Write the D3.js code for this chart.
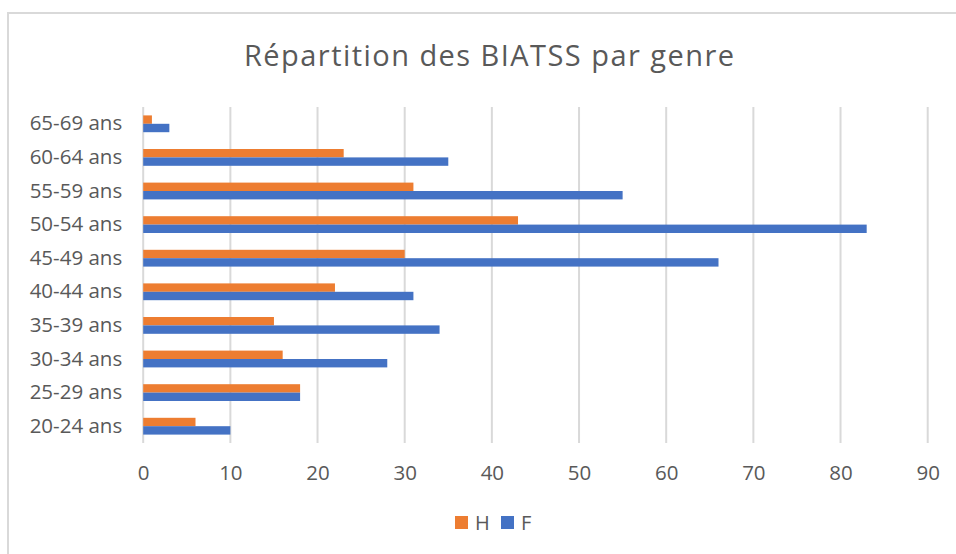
<!DOCTYPE html>
<html>
<head>
<meta charset="utf-8">
<script src="https://cdn.jsdelivr.net/npm/d3@7"></script>
<style>
  body { margin: 0; background: #fff; }
  svg text { font-family: "Open Sans", Lato, sans-serif; fill: #595959; }
</style>
</head>
<body>
<svg id="chart" width="956" height="554"></svg>
<script>
// chart data
const ageGroups = ["20-24 ans", "25-29 ans", "30-34 ans", "35-39 ans", "40-44 ans",
                   "45-49 ans", "50-54 ans", "55-59 ans", "60-64 ans", "65-69 ans"];
const valuesH = [6, 18, 16, 15, 22, 30, 43, 31, 23, 1];
const valuesF = [10, 18, 28, 34, 31, 66, 83, 55, 35, 3];
const seriesNames = ["H", "F"];
const seriesColors = ["#ED7D31", "#4472C4"];
const xTicks = [0, 10, 20, 30, 40, 50, 60, 70, 80, 90];

const svg = d3.select("#chart");

// chart area border (only top + left visible in the crop)
svg.append("rect")
    .attr("x", 8).attr("y", 13)
    .attr("width", 1000).attr("height", 600)
    .attr("fill", "#fff")
    .attr("stroke", "#d9d9d9").attr("stroke-width", 2);

// title
svg.append("text")
    .attr("x", 489).attr("y", 66)
    .attr("text-anchor", "middle")
    .attr("textLength", 490)
    .attr("lengthAdjust", "spacing")
    .style("font-size", "29px")
    .text("Répartition des BIATSS par genre");

const x = d3.scaleLinear().domain([0, 90]).range([143.2, 927.7]);

// top category first, like the original
const y = d3.scaleBand()
    .domain(ageGroups.slice().reverse())
    .range([107, 443])
    .paddingInner(0.5)
    .paddingOuter(0.25);

const ySub = d3.scaleBand().domain(seriesNames).range([0, y.bandwidth()]);

// vertical gridlines
svg.append("g").selectAll("line")
    .data(xTicks)
    .join("line")
    .attr("x1", d => x(d)).attr("x2", d => x(d))
    .attr("y1", 107).attr("y2", 443)
    .attr("stroke", "#d9d9d9").attr("stroke-width", 2);

// bars
const rows = ageGroups.map((a, i) => ({ age: a, H: valuesH[i], F: valuesF[i] }));

seriesNames.forEach((s, si) => {
    svg.append("g").selectAll("rect")
        .data(rows)
        .join("rect")
        .attr("x", x(0))
        .attr("y", d => y(d.age) + ySub(s))
        .attr("width", d => x(d[s]) - x(0))
        .attr("height", ySub.bandwidth())
        .attr("fill", seriesColors[si]);
});

// y axis labels
const yAxis = svg.append("g")
    .attr("transform", `translate(${x(0)},0)`)
    .call(d3.axisLeft(y).tickSize(0).tickPadding(21));
yAxis.select(".domain").remove();
yAxis.selectAll("text").style("font-size", "20.5px");

// x axis labels
const xAxis = svg.append("g")
    .attr("transform", "translate(0,443)")
    .call(d3.axisBottom(x).tickValues(xTicks).tickSize(0).tickPadding(22));
xAxis.select(".domain").remove();
xAxis.selectAll("text").style("font-size", "20.5px");

// legend
const legend = svg.append("g").attr("transform", "translate(455,516)");
const lx = [0, 46];
seriesNames.forEach((s, i) => {
    legend.append("rect")
        .attr("x", lx[i]).attr("y", 0)
        .attr("width", 13).attr("height", 13)
        .attr("fill", seriesColors[i]);
    legend.append("text")
        .attr("x", lx[i] + 20).attr("y", 14)
        .style("font-size", "20px")
        .text(s);
});
</script>
</body>
</html>
